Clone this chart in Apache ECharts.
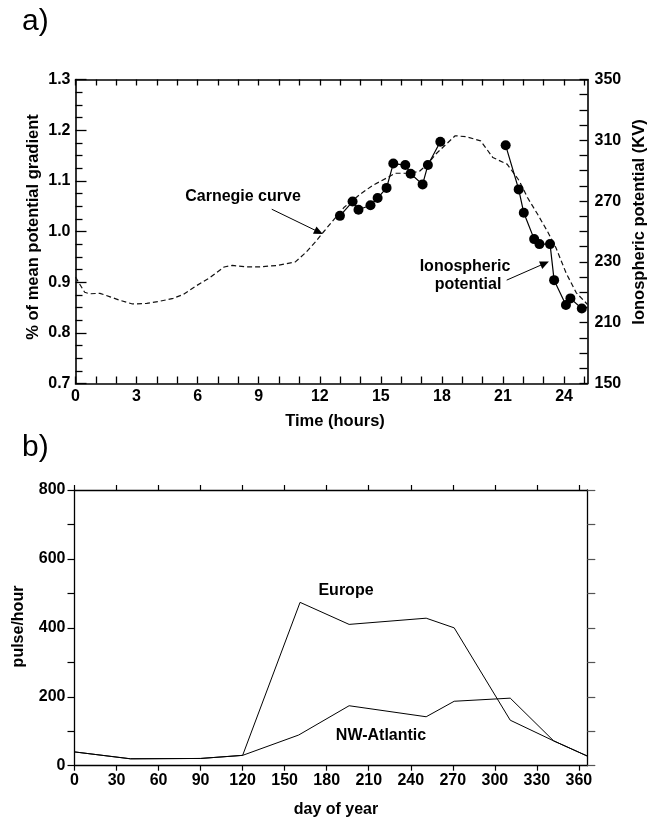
<!DOCTYPE html>
<html>
<head>
<meta charset="utf-8">
<script src="https://cdn.jsdelivr.net/npm/echarts@6/dist/echarts.min.js"></script>
<style>
html,body{margin:0;padding:0;background:#fff;}
#chart{width:647px;height:822px;}
</style>
</head>
<body>
<div id="chart"></div>
<script>
// ---- panel a) data ----
const carnegieT = [0, 0.45, 0.7, 1.2, 1.7, 2.2, 2.8, 3.5, 4.1, 4.8, 5.3, 5.9, 6.6, 7.3, 7.7, 8.4, 9.0, 9.9, 10.8, 11.3, 11.8, 12.2, 12.7, 13.2, 14.0, 14.6, 15.3, 15.7, 16.4, 16.9, 17.3, 17.7, 18.2, 18.65, 19.2, 19.9, 20.5, 21.2, 21.8, 22.2, 22.7, 23.2, 23.6, 24.1, 24.6, 25.15];
const carnegieV = [0.91, 0.88, 0.877, 0.878, 0.871, 0.864, 0.857, 0.858, 0.862, 0.868, 0.876, 0.892, 0.909, 0.930, 0.933, 0.930, 0.930, 0.933, 0.940, 0.958, 0.980, 1.000, 1.024, 1.048, 1.074, 1.091, 1.106, 1.115, 1.115, 1.119, 1.133, 1.153, 1.172, 1.189, 1.187, 1.179, 1.146, 1.133, 1.100, 1.067, 1.034, 0.999, 0.968, 0.918, 0.879, 0.856];
// ionospheric potential (KV), two observation segments
const ionoDayT  = [12.99, 13.61, 13.9, 14.49, 14.84, 15.28, 15.61, 16.2, 16.46, 17.05, 17.31, 17.92];
const ionoDayKV = [260.3, 269.7, 264.3, 267.3, 272.0, 278.7, 294.7, 293.7, 288.0, 281.0, 293.7, 309.0];
const ionoEveT  = [21.13, 21.77, 22.02, 22.53, 22.79, 23.31, 23.51, 24.09, 24.31, 24.87];
const ionoEveKV = [306.7, 277.7, 262.3, 245.0, 241.7, 241.7, 218.0, 201.7, 206.0, 199.3];
const hourTicks = [0, 1, 2, 3, 4, 5, 6, 7, 8, 9, 10, 11, 12, 13, 14, 15, 16, 17, 18, 19, 20, 21, 22, 23, 24, 25];
const hourLabels = [0, 3, 6, 9, 12, 15, 18, 21, 24];
const gradLabels = ['0.7', '0.8', '0.9', '1.0', '1.1', '1.2', '1.3'];
const kvTickValues = [150, 190, 230, 270, 310, 350];
const kvTickLabels = ['150', '210', '230', '270', '310', '350'];

// ---- panel b) data ----
const europeDay = [0, 40, 90, 120, 161, 196, 251, 271, 311, 342, 366];
const europeVal = [40, 20, 21, 30, 474, 410, 428, 400, 132, 72, 28];
const atlanticDay = [0, 40, 90, 120, 160, 196, 251, 271, 311, 342, 366];
const atlanticVal = [40, 20, 21, 30, 89, 174, 142, 187, 196, 72, 28];
const dayLabels = [0, 30, 60, 90, 120, 150, 180, 210, 240, 270, 300, 330, 360];
const pulseLabels = [0, 200, 400, 600, 800];

const zip = (a, b) => a.map((v, i) => [v, b[i]]);
const FONT = '"Liberation Sans", Arial, Helvetica, sans-serif';
const lab = {color: '#000', fontFamily: FONT, fontWeight: 'bold', fontSize: 16};
const blk = {color: '#000'};

function near(list, v, tol) {
  for (let i = 0; i < list.length; i++) if (Math.abs(list[i] - v) < tol) return i;
  return -1;
}

const chart = echarts.init(document.getElementById('chart'), null, {renderer: 'canvas'});
const option = {
  animation: false,
  backgroundColor: '#fff',
  grid: [
    {left: 75.5, top: 79.5, width: 512, height: 304},
    {left: 74.5, top: 490, width: 512.8, height: 275.7}
  ],
  xAxis: [
    {gridIndex: 0, type: 'value', position: 'bottom', min: 0, max: 25.15, interval: 1,
     axisLine: {onZero: false, lineStyle: {color: '#000', width: 1.6}},
     axisTick: {inside: true, length: 7, customValues: hourTicks, lineStyle: {color: '#000', width: 1.3}},
     axisLabel: Object.assign({margin: 5, customValues: hourLabels,
       formatter: v => { const i = near(hourLabels, v, 1e-6); return i >= 0 ? String(hourLabels[i]) : ''; }}, lab),
     splitLine: {show: false}},
    {gridIndex: 0, type: 'value', position: 'top', min: 0, max: 25.15, interval: 1,
     axisLine: {onZero: false, lineStyle: {color: '#000', width: 1.6}},
     axisTick: {inside: true, length: 6, customValues: hourTicks, lineStyle: {color: '#000', width: 1.3}},
     axisLabel: {show: false}, splitLine: {show: false}},
    {gridIndex: 1, type: 'value', position: 'bottom', min: 0, max: 366, interval: 30,
     axisLine: {onZero: false, lineStyle: {color: '#000', width: 1.3}},
     axisTick: {inside: false, length: 5, customValues: dayLabels, lineStyle: {color: '#000', width: 1.2}},
     axisLabel: Object.assign({margin: 7, customValues: dayLabels,
       formatter: v => { const i = near(dayLabels, v, 1e-6); return i >= 0 ? String(dayLabels[i]) : ''; }}, lab),
     splitLine: {show: false}},
    {gridIndex: 1, type: 'value', position: 'top', min: 0, max: 366, interval: 30,
     axisLine: {onZero: false, lineStyle: {color: '#000', width: 1.3}},
     axisTick: {inside: false, length: 5, customValues: dayLabels, lineStyle: {color: '#000', width: 1.2}},
     axisLabel: {show: false}, splitLine: {show: false}}
  ],
  yAxis: [
    {gridIndex: 0, type: 'value', position: 'left', min: 0.7, max: 1.3, interval: 0.1,
     axisLine: {onZero: false, lineStyle: {color: '#000', width: 1.6}},
     axisTick: {inside: true, length: 11, lineStyle: {color: '#000', width: 1.3}},
     minorTick: {show: true, splitNumber: 4, length: 7, lineStyle: {color: '#000', width: 1.3}},
     axisLabel: Object.assign({margin: 5,
       formatter: v => { const i = near(gradLabels.map(Number), v, 1e-6); return i >= 0 ? gradLabels[i] : ''; }}, lab),
     splitLine: {show: false}, minorSplitLine: {show: false}},
    {gridIndex: 0, type: 'value', position: 'right', min: 150, max: 350, interval: 10,
     axisLine: {onZero: false, lineStyle: {color: '#000', width: 1.6}},
     axisTick: {inside: true, length: 8, lineStyle: {color: '#000', width: 1.3}},
     axisLabel: Object.assign({margin: 7, customValues: kvTickValues,
       formatter: v => { const i = near(kvTickValues, v, 1e-6); return i >= 0 ? kvTickLabels[i] : ''; }}, lab),
     splitLine: {show: false}},
    {gridIndex: 1, type: 'value', position: 'left', min: 0, max: 800, interval: 100,
     axisLine: {onZero: false, lineStyle: {color: '#000', width: 1.3}},
     axisTick: {inside: false, length: 7, lineStyle: {color: '#000', width: 1.2}},
     axisLabel: Object.assign({margin: 9,
       formatter: v => { const i = near(pulseLabels, v, 1e-6); return i >= 0 ? String(pulseLabels[i]) : ''; }}, lab),
     splitLine: {show: false}},
    {gridIndex: 1, type: 'value', position: 'right', min: 0, max: 800, interval: 100,
     axisLine: {onZero: false, lineStyle: {color: '#000', width: 1.3}},
     axisTick: {inside: false, length: 8, lineStyle: {color: '#555', width: 1.2}},
     axisLabel: {show: false}, splitLine: {show: false}}
  ],
  series: [
    {name: 'Carnegie curve', type: 'line', xAxisIndex: 0, yAxisIndex: 0,
     data: zip(carnegieT, carnegieV), showSymbol: false, symbol: 'none', silent: true,
     lineStyle: {color: '#111', width: 1.2, type: [5, 3]},
     markLine: {silent: true, symbol: ['none', 'triangle'], symbolSize: [8, 9],
       lineStyle: {color: '#000', width: 1, type: 'solid'}, label: {show: false},
       data: [[{coord: [9.64, 1.044]}, {coord: [11.95, 0.999]}]]}},
    {name: 'Ionospheric potential', type: 'line', xAxisIndex: 0, yAxisIndex: 1,
     data: zip(ionoDayT, ionoDayKV), symbol: 'circle', symbolSize: 10, silent: true,
     itemStyle: blk, lineStyle: {color: '#000', width: 1.2},
     markLine: {silent: true, symbol: ['none', 'triangle'], symbolSize: [8, 9],
       lineStyle: {color: '#000', width: 1, type: 'solid'}, label: {show: false},
       data: [[{coord: [21.18, 218]}, {coord: [23.05, 229]}]]}},
    {name: 'Ionospheric potential evening', type: 'line', xAxisIndex: 0, yAxisIndex: 1,
     data: zip(ionoEveT, ionoEveKV), symbol: 'circle', symbolSize: 10, silent: true,
     itemStyle: blk, lineStyle: {color: '#000', width: 1.2}},
    {name: 'Europe', type: 'line', xAxisIndex: 2, yAxisIndex: 2,
     data: zip(europeDay, europeVal), showSymbol: false, symbol: 'none', silent: true,
     lineStyle: {color: '#000', width: 1}},
    {name: 'NW-Atlantic', type: 'line', xAxisIndex: 2, yAxisIndex: 2,
     data: zip(atlanticDay, atlanticVal), showSymbol: false, symbol: 'none', silent: true,
     lineStyle: {color: '#000', width: 1}}
  ],
  graphic: [
    {type: 'text', x: 22, y: 22, style: {text: 'a)', fill: '#000', font: 'normal 30px ' + FONT, textAlign: 'left', textVerticalAlign: 'middle'}},
    {type: 'text', x: 22, y: 448, style: {text: 'b)', fill: '#000', font: 'normal 30px ' + FONT, textAlign: 'left', textVerticalAlign: 'middle'}},
    {type: 'text', x: 33.5, y: 227, rotation: Math.PI / 2, style: {text: '% of mean potential gradient', fill: '#000', font: 'bold 16.5px ' + FONT, textAlign: 'center', textVerticalAlign: 'middle'}},
    {type: 'text', x: 639, y: 222, rotation: Math.PI / 2, style: {text: 'Ionospheric potential (KV)', fill: '#000', font: 'bold 16.5px ' + FONT, textAlign: 'center', textVerticalAlign: 'middle'}},
    {type: 'text', x: 335, y: 421, style: {text: 'Time (hours)', fill: '#000', font: 'bold 16.5px ' + FONT, textAlign: 'center', textVerticalAlign: 'middle'}},
    {type: 'text', x: 243, y: 197, style: {text: 'Carnegie curve', fill: '#000', font: 'bold 16px ' + FONT, textAlign: 'center', textVerticalAlign: 'middle'}},
    {type: 'text', x: 465, y: 267, style: {text: 'Ionospheric', fill: '#000', font: 'bold 16px ' + FONT, textAlign: 'center', textVerticalAlign: 'middle'}},
    {type: 'text', x: 468, y: 285, style: {text: 'potential', fill: '#000', font: 'bold 16px ' + FONT, textAlign: 'center', textVerticalAlign: 'middle'}},
    {type: 'text', x: 18.5, y: 626.5, rotation: Math.PI / 2, style: {text: 'pulse/hour', fill: '#000', font: 'bold 16px ' + FONT, textAlign: 'center', textVerticalAlign: 'middle'}},
    {type: 'text', x: 336, y: 810, style: {text: 'day of year', fill: '#000', font: 'bold 16px ' + FONT, textAlign: 'center', textVerticalAlign: 'middle'}},
    {type: 'text', x: 346, y: 591, style: {text: 'Europe', fill: '#000', font: 'bold 16px ' + FONT, textAlign: 'center', textVerticalAlign: 'middle'}},
    {type: 'text', x: 381, y: 736, style: {text: 'NW-Atlantic', fill: '#000', font: 'bold 16px ' + FONT, textAlign: 'center', textVerticalAlign: 'middle'}}
  ]
};
chart.setOption(option);
</script>
</body>
</html>
